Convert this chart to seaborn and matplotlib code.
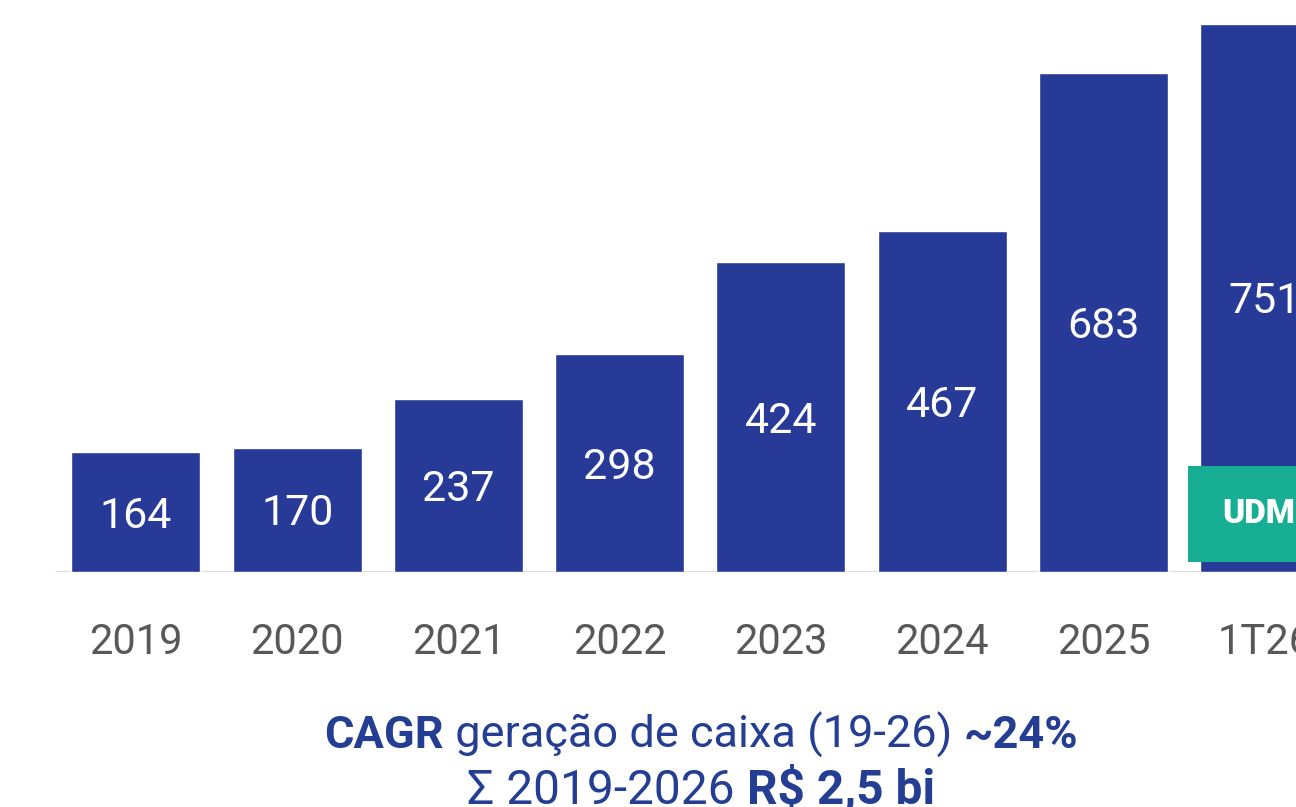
import matplotlib
matplotlib.use("Agg")
import matplotlib.pyplot as plt
from matplotlib.patches import Rectangle
import seaborn as sns
import pandas as pd

# Cash generation by period (R$ millions)
periods = ["2019", "2020", "2021", "2022", "2023", "2024", "2025", "1T26"]
cash_generation = [164, 170, 237, 298, 424, 467, 683, 751]
badge_label = "UDM"

line1 = [("CAGR", "bold"), (" geração de caixa (19-26) ", "normal"), ("~24%", "bold")]
line2 = [("Σ 2019-2026 ", "normal"), ("R$ 2,5 bi", "bold")]

BAR_BLUE = "#283A97"
TEXT_BLUE = "#233E92"
GREEN = "#17AF93"
TICK_GREY = "#585858"
BASE_GREY = "#d9d9d9"

sns.set_theme(style="white")
plt.rcParams["font.family"] = ["Roboto", "DejaVu Sans"]

W, H = 1296, 807
fig = plt.figure(figsize=(W / 100, H / 100), dpi=100)
fig.patch.set_facecolor("white")

base_px = 235          # baseline height from bottom (px)
px_per_unit = 0.73
ax = fig.add_axes([0, base_px / H, 1, (H - base_px) / H])

df = pd.DataFrame({"period": periods, "value": cash_generation})
sns.barplot(data=df, x="period", y="value", color=BAR_BLUE, saturation=1,
            width=0.8, ax=ax, zorder=2)

step = 161.25
ax.set_xlim(-136 / step, (W - 136) / step)
ax.set_ylim(0, (H - base_px) / px_per_unit)
for s in ax.spines.values():
    s.set_visible(False)
ax.set_yticks([])
ax.set_xlabel("")
ax.set_ylabel("")
ax.tick_params(axis="x", length=0, pad=36, labelsize=30, labelcolor=TICK_GREY)

# baseline
ax.plot([-0.5, len(periods) + 0.5], [0, 0], color=BASE_GREY, lw=2, zorder=1,
        solid_capstyle="butt")

# value labels: digits vertically centred inside the bars
half_cap = 15.5 / px_per_unit
for i, v in enumerate(cash_generation):
    ax.text(i, v / 2 - half_cap, str(v), ha="center", va="baseline",
            color="white", fontsize=31, zorder=4)

# trailing-twelve-months badge at the foot of the last bar
last = ax.patches[len(periods) - 1]
bx = last.get_x() - 12 / step
ax.add_patch(Rectangle((bx, 10 / px_per_unit), 2.0, 96 / px_per_unit,
                       facecolor=GREEN, edgecolor="none", zorder=3))
ax.text(bx + 34 / step, 58 / px_per_unit, badge_label, ha="left", va="center",
        color="white", fontsize=24, fontweight="heavy", zorder=4)

# footer lines with mixed weights, centred
fig.canvas.draw()
renderer = fig.canvas.get_renderer()


def centred_line(segments, cx, base_y, size):
    texts = []
    for s, w in segments:
        t = fig.text(0, base_y / H, s, fontsize=size, fontweight=w,
                     color=TEXT_BLUE, va="baseline", ha="left")
        texts.append(t)
    widths = [t.get_window_extent(renderer).width for t in texts]
    x = cx - sum(widths) / 2
    for t, wdt in zip(texts, widths):
        t.set_x(x / W)
        x += wdt


centred_line(line1, 701, H - 748, 32.5)
centred_line(line2, 701, H - 804, 34.5)

fig.savefig("out.png", dpi=100, facecolor="white")
